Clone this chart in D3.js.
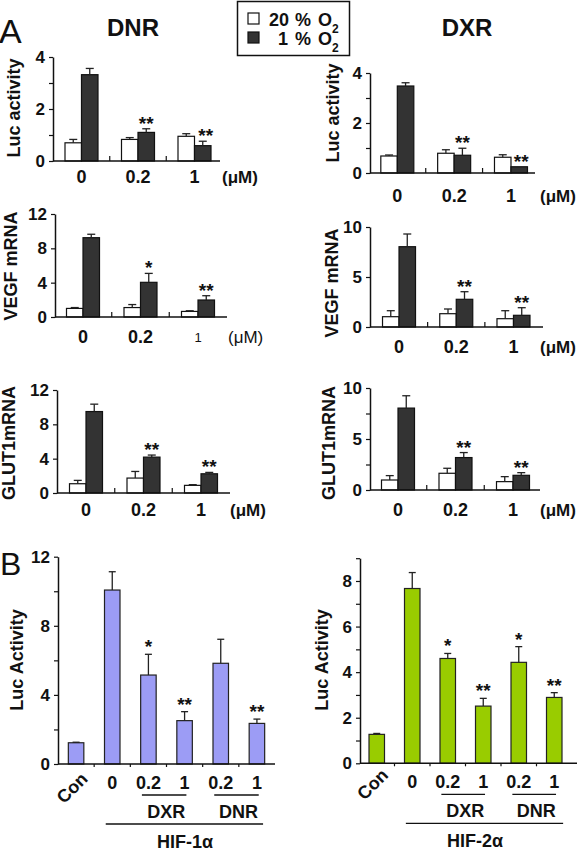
<!DOCTYPE html>
<html><head><meta charset="utf-8">
<script src="https://cdn.jsdelivr.net/npm/d3@7"></script>
<style>body{margin:0;background:#fff}svg{display:block}text{font-family:"Liberation Sans",Arial,Helvetica,sans-serif;fill:#111}</style>
</head><body><svg id="c" width="578" height="853"></svg>
<script>
// ---------- DATA ----------
const doses = ["0", "0.2", "1"];
const seriesNames = ["20 % O", "1 % O"];
// Panel A: DNR
const dnrLucNorm = [0.70, 0.83, 0.95], dnrLucNormErr = [0.13, 0.07, 0.10];
const dnrLucHyp = [3.32, 1.10, 0.59], dnrLucHypErr = [0.24, 0.14, 0.17];
const dnrLucStars = ["", "**", "**"];
const dnrVegfNorm = [1.00, 1.10, 0.65], dnrVegfNormErr = [0.10, 0.35, 0.08];
const dnrVegfHyp = [9.24, 4.04, 1.98], dnrVegfHypErr = [0.40, 1.04, 0.50];
const dnrVegfStars = ["", "*", "**"];
const dnrGlutNorm = [1.08, 1.74, 0.89], dnrGlutNormErr = [0.39, 0.77, 0.08];
const dnrGlutHyp = [9.49, 4.18, 2.24], dnrGlutHypErr = [0.86, 0.24, 0.16];
const dnrGlutStars = ["", "**", "**"];
// Panel A: DXR
const dxrLucNorm = [0.68, 0.79, 0.63], dxrLucNormErr = [0.04, 0.14, 0.10];
const dxrLucHyp = [3.48, 0.71, 0.25], dxrLucHypErr = [0.13, 0.28, 0.0];
const dxrLucStars = ["", "**", "**"];
const dxrVegfNorm = [1.03, 1.33, 0.83], dxrVegfNormErr = [0.60, 0.47, 0.80];
const dxrVegfHyp = [8.03, 2.77, 1.17], dxrVegfHypErr = [1.27, 0.76, 0.76];
const dxrVegfStars = ["", "**", "**"];
const dxrGlutNorm = [0.98, 1.64, 0.82], dxrGlutNormErr = [0.43, 0.49, 0.49];
const dxrGlutHyp = [8.03, 3.18, 1.44], dxrGlutHypErr = [1.21, 0.49, 0.26];
const dxrGlutStars = ["", "**", "**"];
// Panel B
const bCategories = ["Con", "0", "0.2", "1", "0.2", "1"];
const hif1Values = [1.23, 10.07, 5.15, 2.51, 5.83, 2.35];
const hif1Err = [0.03, 1.06, 1.20, 0.52, 1.39, 0.25];
const hif1Stars = ["", "", "*", "**", "", "**"];
const hif2Values = [1.27, 7.67, 4.60, 2.51, 4.43, 2.89];
const hif2Err = [0.04, 0.70, 0.22, 0.34, 0.69, 0.21];
const hif2Stars = ["", "", "*", "**", "*", "**"];

// ---------- DRAW ----------
const svg = d3.select("#c");
const FONT = '"Liberation Sans",Arial,Helvetica,sans-serif';

function yAxisDraw(g, y, major, minor, x) {
  const ax = d3.axisLeft(y).tickValues(major).tickSize(4).tickSizeOuter(0).tickPadding(4).tickFormat(d3.format("d"));
  const a = g.append("g").attr("transform", `translate(${x},0)`).call(ax);
  a.select(".domain").attr("stroke", "#111").attr("stroke-width", 1.5);
  a.selectAll(".tick line").attr("stroke", "#111").attr("stroke-width", 1.2);
  a.selectAll(".tick text").attr("font-size", 17).attr("font-weight", "bold").attr("font-family", FONT).attr("fill", "#111");
  if (minor.length) {
    const m = g.append("g").attr("transform", `translate(${x},0)`)
      .call(d3.axisLeft(y).tickValues(minor).tickSize(4).tickSizeOuter(0).tickFormat(""));
    m.select(".domain").remove();
    m.selectAll(".tick line").attr("stroke", "#111").attr("stroke-width", 1.2);
  }
}

function yLabel(g, text, x, y) {
  g.append("text").attr("transform", `translate(${x},${y}) rotate(-90)`)
    .attr("text-anchor", "middle").attr("dominant-baseline", "central")
    .attr("font-size", 18).attr("font-weight", "bold").text(text);
}

function errBar(g, cx, yTop, yErr, cap) {
  if (Math.abs(yTop - yErr) < 0.5) return;
  g.append("line").attr("x1", cx).attr("x2", cx).attr("y1", yTop).attr("y2", yErr).attr("stroke", "#222").attr("stroke-width", 1.3);
  g.append("line").attr("x1", cx - cap / 2).attr("x2", cx + cap / 2).attr("y1", yErr).attr("y2", yErr).attr("stroke", "#222").attr("stroke-width", 1.3);
}

function starText(g, x, yErrTop, s) {
  g.append("text").attr("x", x).attr("y", yErrTop + 1)
    .attr("text-anchor", "middle").attr("font-size", 19).attr("font-weight", "bold").text(s);
}

function panelA(c) {
  const g = svg.append("g");
  const x0 = d3.scaleBand().domain(doses).range(c.band).paddingInner(0).paddingOuter(0);
  const x1 = d3.scaleBand().domain(["norm", "hyp"]).range([0, 2 * c.barW]);
  const y = d3.scaleLinear().domain([0, c.yMax]).range([c.y0, c.yTop]);
  const series = [
    {key: "norm", vals: c.norm, errs: c.normErr, fill: "#ffffff"},
    {key: "hyp", vals: c.hyp, errs: c.hypErr, fill: "#333333"}
  ];
  series.forEach(s => {
    doses.forEach((d, i) => {
      const cx0 = x0(d) + x0.bandwidth() / 2 - c.barW;
      const bx = cx0 + x1(s.key);
      g.append("rect").attr("x", bx).attr("y", y(s.vals[i])).attr("width", x1.bandwidth())
        .attr("height", y(0) - y(s.vals[i])).attr("fill", s.fill).attr("stroke", "#111").attr("stroke-width", 1.2);
      errBar(g, bx + x1.bandwidth() / 2, y(s.vals[i]), y(s.vals[i] + s.errs[i]), 8);
      if (s.key === "hyp" && c.stars[i]) {
        starText(g, bx + x1.bandwidth() / 2 + (c.starDx ? c.starDx[i] : 0), y(s.vals[i] + s.errs[i]), c.stars[i]);
      }
    });
  });
  yAxisDraw(g, y, c.major, c.minor, c.axisX0);
  g.append("line").attr("x1", c.axisX0).attr("x2", c.axisX1).attr("y1", c.y0).attr("y2", c.y0).attr("stroke", "#111").attr("stroke-width", 1.5);
  doses.slice(1).forEach(d => {
    g.append("line").attr("x1", x0(d)).attr("x2", x0(d)).attr("y1", c.y0).attr("y2", c.y0 - 5).attr("stroke", "#111").attr("stroke-width", 1.2);
  });
  doses.forEach((d, i) => {
    const st = (c.labelStyle && c.labelStyle[i]) || {};
    g.append("text").attr("x", x0(d) + x0.bandwidth() / 2).attr("y", c.labelY)
      .attr("text-anchor", "middle").attr("dominant-baseline", "central")
      .attr("font-size", st.size || 18).attr("font-weight", st.weight || "bold").text(d);
  });
  g.append("text").attr("x", c.unitX).attr("y", c.labelY).attr("dominant-baseline", "central")
    .attr("font-size", 17).attr("font-weight", c.unitWeight || "bold").text("(μM)");
  yLabel(g, c.ylabel, c.ylabelX, c.ylabelY);
}

function panelB(c) {
  const g = svg.append("g");
  const x = d3.scaleBand().domain(d3.range(bCategories.length)).range(c.band);
  const y = d3.scaleLinear().domain([0, c.yMax]).range([c.y0, c.yTop]);
  const bw = x.bandwidth();
  c.values.forEach((v, i) => {
    const cx = x(i) + bw / 2;
    g.append("rect").attr("x", cx - c.barW / 2).attr("y", y(v)).attr("width", c.barW)
      .attr("height", y(0) - y(v)).attr("fill", c.color).attr("stroke", "#222").attr("stroke-width", 1.2);
    errBar(g, cx, y(v), y(v + c.errs[i]), 7);
    if (c.stars[i]) starText(g, cx, y(v + c.errs[i]) - 2, c.stars[i]);
  });
  yAxisDraw(g, y, c.major, c.minor, c.axisX0);
  g.append("line").attr("x1", c.axisX0).attr("x2", c.axisX1).attr("y1", c.y0).attr("y2", c.y0).attr("stroke", "#111").attr("stroke-width", 1.5);
  d3.range(1, bCategories.length).forEach(i => {
    g.append("line").attr("x1", x(i)).attr("x2", x(i)).attr("y1", c.y0).attr("y2", c.y0 + 3).attr("stroke", "#111").attr("stroke-width", 1.2);
  });
  bCategories.forEach((lab, i) => {
    const cx = x(i) + bw / 2;
    if (i === 0) {
      g.append("text").attr("transform", `translate(${cx - 4},${c.y0 + c.conDy}) rotate(-45)`)
        .attr("text-anchor", "middle").attr("dominant-baseline", "central")
        .attr("font-size", 18).attr("font-weight", "bold").text(lab);
    } else {
      g.append("text").attr("x", cx).attr("y", c.y0 + 19).attr("text-anchor", "middle").attr("dominant-baseline", "central")
        .attr("font-size", 18).attr("font-weight", "bold").text(lab);
    }
  });
  [[2, "DXR"], [4, "DNR"]].forEach(([i, name]) => {
    const xa = x(i) + 0.32 * bw, xb = x(i + 1) + 0.55 * bw;
    g.append("line").attr("x1", xa).attr("x2", xb).attr("y1", c.y0 + 31).attr("y2", c.y0 + 31).attr("stroke", "#111").attr("stroke-width", 1.3);
    g.append("text").attr("x", (xa + xb) / 2 + 2).attr("y", c.y0 + 48).attr("text-anchor", "middle").attr("dominant-baseline", "central")
      .attr("font-size", 18).attr("font-weight", "bold").text(name);
  });
  const la = x(1) + 0.32 * bw, lb = x(5) + c.longEnd * bw;
  g.append("line").attr("x1", la).attr("x2", lb).attr("y1", c.y0 + 60).attr("y2", c.y0 + 60).attr("stroke", "#111").attr("stroke-width", 1.3);
  g.append("text").attr("x", c.hifX).attr("y", c.y0 + 78).attr("text-anchor", "middle").attr("dominant-baseline", "central")
    .attr("font-size", 18).attr("font-weight", "bold").text(c.hifLabel);
  yLabel(g, c.ylabel, c.ylabelX, c.ylabelY);
}

// Panel A configs
panelA({norm: dnrLucNorm, normErr: dnrLucNormErr, hyp: dnrLucHyp, hypErr: dnrLucHypErr, stars: dnrLucStars,
  axisX0: 53, axisX1: 220, band: [53.25, 222.75], barW: 16.5, y0: 161, yTop: 57, yMax: 4, major: [0, 2, 4], minor: [1, 3],
  labelY: 177, unitX: 222, ylabel: "Luc activity", ylabelX: 14, ylabelY: 108, starDx: [0, 0, 3]});
panelA({norm: dxrLucNorm, normErr: dxrLucNormErr, hyp: dxrLucHyp, hypErr: dxrLucHypErr, stars: dxrLucStars,
  axisX0: 370, axisX1: 535, band: [368.9, 539.4], barW: 16.5, y0: 173, yTop: 73, yMax: 4, major: [0, 2, 4], minor: [1, 3],
  labelY: 196, unitX: 540, ylabel: "Luc activity", ylabelX: 333, ylabelY: 113, starDx: [0, 0, 2]});
panelA({norm: dnrVegfNorm, normErr: dnrVegfNormErr, hyp: dnrVegfHyp, hypErr: dnrVegfHypErr, stars: dnrVegfStars,
  axisX0: 55, axisX1: 227, band: [54.25, 226.75], barW: 16.5, y0: 317, yTop: 214, yMax: 12, major: [0, 4, 8, 12], minor: [],
  labelY: 337, unitX: 228, unitWeight: "normal", ylabel: "VEGF mRNA", ylabelX: 11, ylabelY: 266,
  labelStyle: [null, null, {size: 13, weight: "normal"}]});
panelA({norm: dxrVegfNorm, normErr: dxrVegfNormErr, hyp: dxrVegfHyp, hypErr: dxrVegfHypErr, stars: dxrVegfStars,
  axisX0: 370, axisX1: 543, band: [370.4, 542.1], barW: 16.5, y0: 327, yTop: 227, yMax: 10, major: [0, 5, 10], minor: [],
  labelY: 347, unitX: 540, ylabel: "VEGF mRNA", ylabelX: 332, ylabelY: 283});
panelA({norm: dnrGlutNorm, normErr: dnrGlutNormErr, hyp: dnrGlutHyp, hypErr: dnrGlutHypErr, stars: dnrGlutStars,
  axisX0: 57, axisX1: 230, band: [57.25, 229.75], barW: 16.5, y0: 493, yTop: 390, yMax: 12, major: [0, 4, 8, 12], minor: [],
  labelY: 510, unitX: 230, ylabel: "GLUT1mRNA", ylabelX: 9, ylabelY: 443});
panelA({norm: dxrGlutNorm, normErr: dxrGlutNormErr, hyp: dxrGlutHyp, hypErr: dxrGlutHypErr, stars: dxrGlutStars,
  axisX0: 370, axisX1: 540, band: [369.25, 541.75], barW: 16.5, y0: 490, yTop: 388, yMax: 10, major: [0, 5, 10], minor: [2.5, 7.5],
  labelY: 510, unitX: 540, ylabel: "GLUT1mRNA", ylabelX: 329, ylabelY: 443});

// Panel B configs
panelB({values: hif1Values, errs: hif1Err, stars: hif1Stars, color: "#9c9cf5",
  axisX0: 58, axisX1: 275, band: [58, 275], barW: 15.5, y0: 764, yTop: 556.7, yMax: 12, major: [0, 4, 8, 12], minor: [2, 6, 10],
  conDy: 24, longEnd: 0.67, hifX: 185, hifLabel: "HIF-1α", ylabel: "Luc Activity", ylabelX: 17, ylabelY: 660});
panelB({values: hif2Values, errs: hif2Err, stars: hif2Stars, color: "#99cc00",
  axisX0: 360, axisX1: 577, band: [359, 572], barW: 15.5, y0: 763.3, yTop: 558.2, yMax: 9, major: [0, 2, 4, 6, 8], minor: [1, 3, 5, 7, 9],
  conDy: 21, longEnd: 0.75, hifX: 475, hifLabel: "HIF-2α", ylabel: "Luc Activity", ylabelX: 322, ylabelY: 660});

// Titles & panel letters
svg.append("text").attr("x", 133).attr("y", 27).attr("text-anchor", "middle").attr("dominant-baseline", "central")
  .attr("font-size", 24).attr("font-weight", "bold").text("DNR");
svg.append("text").attr("x", 467).attr("y", 27).attr("text-anchor", "middle").attr("dominant-baseline", "central")
  .attr("font-size", 24).attr("font-weight", "bold").text("DXR");
svg.append("text").attr("x", -1).attr("y", 43).attr("font-size", 34).text("A");
svg.append("text").attr("x", 0).attr("y", 575).attr("font-size", 32).text("B");

// Legend
const lg = svg.append("g");
lg.append("rect").attr("x", 237.5).attr("y", 1.5).attr("width", 112).attr("height", 54).attr("fill", "#fff").attr("stroke", "#111").attr("stroke-width", 1.5);
const legFills = ["#ffffff", "#333333"];
const legRows = [{sq: 13, base: 26, numX: 269}, {sq: 32, base: 45, numX: 278}];
seriesNames.forEach((name, i) => {
  const r = legRows[i];
  lg.append("rect").attr("x", 248).attr("y", r.sq).attr("width", 11).attr("height", 11).attr("fill", legFills[i]).attr("stroke", "#111").attr("stroke-width", 1.2);
  const parts = name.split(" ");
  lg.append("text").attr("x", r.numX).attr("y", r.base).attr("font-size", 18).attr("font-weight", "bold").text(parts[0]);
  lg.append("text").attr("x", 295).attr("y", r.base).attr("font-size", 18).attr("font-weight", "bold").text(parts[1]);
  const t = lg.append("text").attr("x", 318).attr("y", r.base).attr("font-size", 18).attr("font-weight", "bold").text(parts[2]);
  t.append("tspan").attr("font-size", 12).attr("dy", 7).text("2");
});
</script></body></html>
